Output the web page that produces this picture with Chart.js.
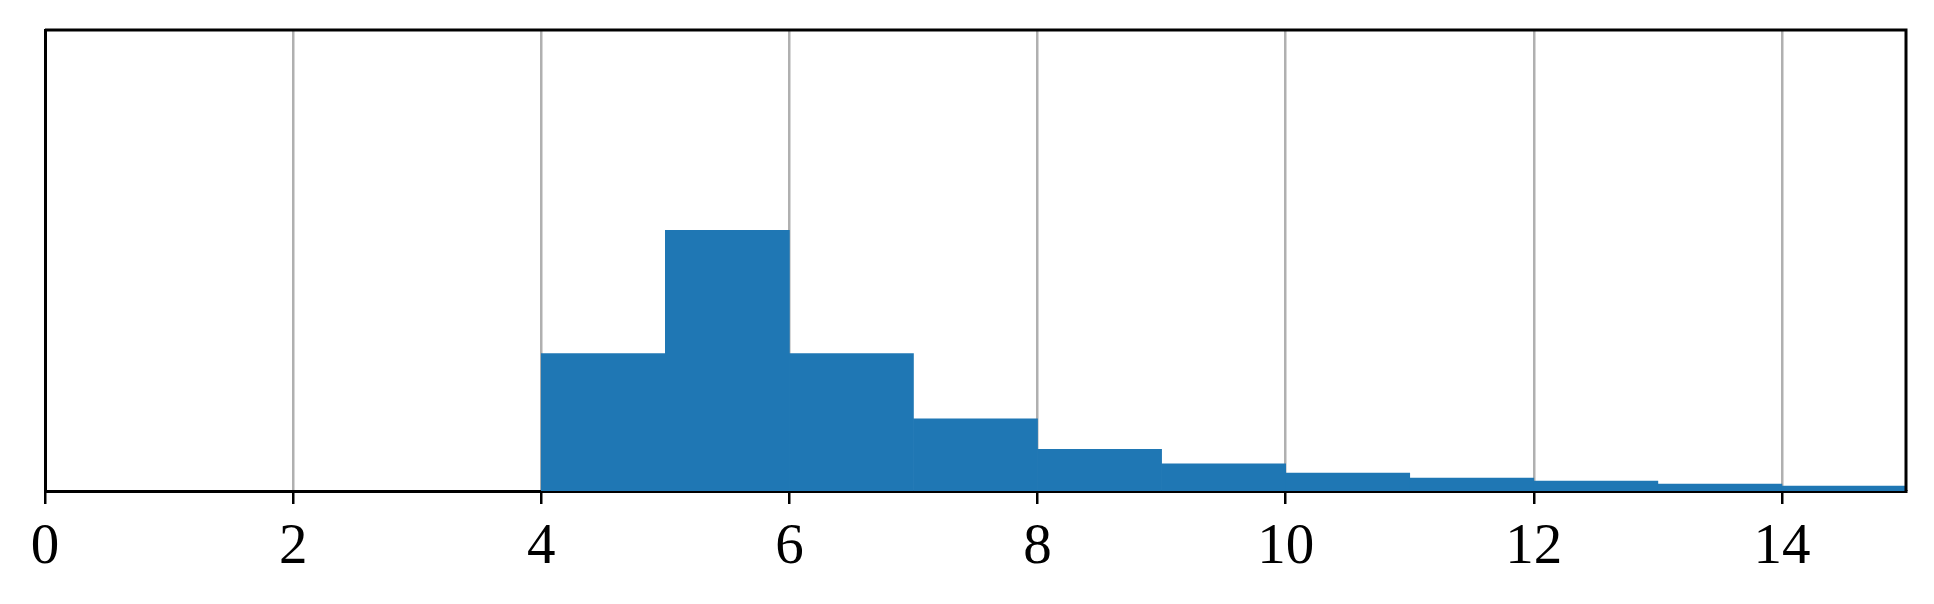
<!DOCTYPE html>
<html>
<head>
<meta charset="utf-8">
<script src="https://cdn.jsdelivr.net/npm/chart.js@4"></script>
<style>
  html, body { margin: 0; padding: 0; background: #fff; }
  #wrap { width: 1934px; height: 604px; }
</style>
</head>
<body>
<div id="wrap"><canvas id="hist" width="1934" height="604"></canvas></div>
<script>
// histogram bins (left edges, width 1) and heights
const binStarts = [4, 5, 6, 7, 8, 9, 10, 11, 12, 13, 14];
const binHeights = [137, 260, 137, 72, 41.7, 27, 18, 13, 10, 7, 5];
const xTicks = [0, 2, 4, 6, 8, 10, 12, 14];
const yMax = 460;

const frame = {
  id: 'frame',
  afterDraw(chart) {
    const { ctx, chartArea: a } = chart;
    ctx.save();
    ctx.strokeStyle = '#000';
    ctx.lineWidth = 3;
    ctx.beginPath();
    ctx.moveTo(a.left, a.top);
    ctx.lineTo(a.right, a.top);
    ctx.lineTo(a.right, a.bottom);
    ctx.stroke();
    ctx.restore();
  }
};

new Chart('hist', {
  type: 'bar',
  data: {
    datasets: [{
      data: binStarts.map((b, i) => ({ x: b + 0.5, y: binHeights[i] })),
      backgroundColor: '#1f77b4',
      borderWidth: 0,
      barPercentage: 1,
      categoryPercentage: 1
    }]
  },
  options: {
    responsive: false,
    animation: false,
    layout: { padding: { left: 45, right: 28, top: 30, bottom: 0 } },
    plugins: { legend: { display: false }, tooltip: { enabled: false } },
    scales: {
      x: {
        type: 'linear',
        min: 0,
        max: 15,
        offset: false,
        z: 1,
        afterFit: s => { s.height = 113; },
        afterBuildTicks: s => { s.ticks = xTicks.map(v => ({ value: v })); },
        grid: {
          offset: false,
          color: '#b0b0b0',
          lineWidth: 2.5,
          drawTicks: true,
          tickLength: 13,
          tickColor: '#000',
          tickWidth: 2.5
        },
        border: { display: true, color: '#000', width: 3 },
        ticks: {
          color: '#000',
          padding: 10,
          font: { family: '"Liberation Serif", "DejaVu Serif", serif', size: 57 },
          maxRotation: 0
        }
      },
      y: {
        min: 0,
        max: yMax,
        afterFit: s => { s.width = 0; },
        grid: { display: false },
        ticks: { display: false },
        border: { display: true, color: '#000', width: 3 }
      }
    }
  },
  plugins: [frame]
});
</script>
</body>
</html>
